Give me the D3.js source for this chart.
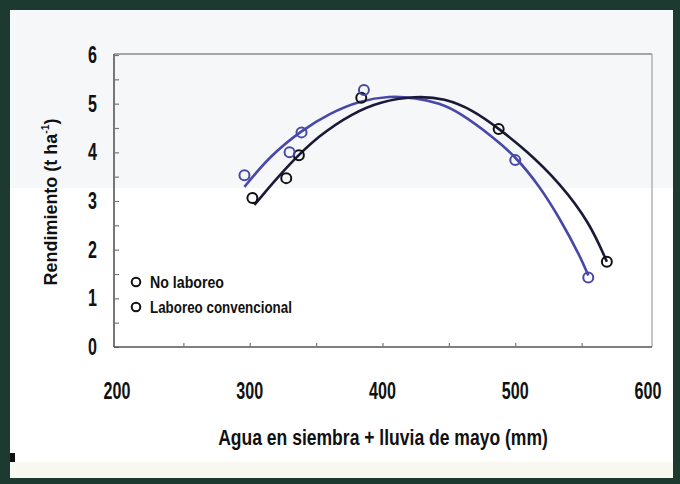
<!DOCTYPE html>
<html>
<head>
<meta charset="utf-8">
<script src="https://cdn.jsdelivr.net/npm/d3@7"></script>
<style>
  html, body { margin: 0; padding: 0; background: #1d3a30; }
  svg { display: block; }
  text { font-family: "Liberation Sans", Arial, sans-serif; fill: #111; font-weight: bold; }
</style>
</head>
<body>
<svg id="chart" width="680" height="484"></svg>
<script>
// ---- data ----
const xTicks = [200, 300, 400, 500, 600];
const yTicks = [0, 1, 2, 3, 4, 5, 6];
const seriesNames = ["No laboreo", "Laboreo convencional"];

// observed points
const noLabX = [296, 330, 339, 386, 500, 555];
const noLabY = [3.53, 4.00, 4.41, 5.28, 3.84, 1.43];
const convX = [302, 327.5, 337, 384, 487.5, 569];
const convY = [3.06, 3.47, 3.94, 5.12, 4.48, 1.75];

// fitted curves
const noLabCurveX = [296, 315, 339, 360, 383, 405, 425, 443, 458, 483, 500, 518.5, 533.6, 549, 555];
const noLabCurveY = [3.29, 3.92, 4.45, 4.80, 5.06, 5.16, 5.12, 5.01, 4.82, 4.32, 3.92, 3.30, 2.64, 1.86, 1.47];
const convCurveX = [303.5, 327.5, 352.5, 377.4, 397.7, 425, 446.8, 468, 487.5, 508.7, 533.6, 556.2, 569];
const convCurveY = [2.92, 3.70, 4.36, 4.80, 5.04, 5.16, 5.11, 4.87, 4.49, 4.03, 3.37, 2.55, 1.75];

const blue = "#4848a6";
const dark = "#1a1a38";

const svg = d3.select("#chart");

// frame & paper
svg.append("rect").attr("x", 0).attr("y", 0).attr("width", 680).attr("height", 484).attr("fill", "#1d3a30");
svg.append("rect").attr("x", 10).attr("y", 10).attr("width", 663).attr("height", 468).attr("fill", "#ffffff");
svg.append("rect").attr("x", 10).attr("y", 10).attr("width", 663).attr("height", 178).attr("fill", "#f6f7f9");
svg.append("rect").attr("x", 10).attr("y", 462).attr("width", 663).attr("height", 16).attr("fill", "#f8f8f0");
svg.append("rect").attr("x", 10).attr("y", 453).attr("width", 5).attr("height", 9).attr("fill", "#111");

const x = d3.scaleLinear().domain([200, 600]).range([117, 648]);
const y = d3.scaleLinear().domain([0, 6]).range([347, 55]);

const pLeft = x(200) - 3, pRight = x(600) + 4, pTop = y(6) - 1, pBottom = y(0);

// plot box
svg.append("line").attr("x1", pLeft).attr("x2", pRight).attr("y1", pTop).attr("y2", pTop)
  .attr("stroke", "#8a8a8a").attr("stroke-width", 1.6);
svg.append("line").attr("x1", pRight).attr("x2", pRight).attr("y1", pTop).attr("y2", pBottom)
  .attr("stroke", "#a0a0a0").attr("stroke-width", 1.2);

// y axis (inward ticks every 0.5)
const yAxis = d3.axisRight(y).tickValues(d3.range(0, 6.01, 0.5)).tickSize(5).tickFormat("");
const gy = svg.append("g").attr("transform", `translate(${pLeft},0)`).call(yAxis);
gy.select(".domain").attr("stroke", "#555").attr("stroke-width", 1.6).attr("d", `M0,${pTop}V${pBottom}`);
gy.selectAll(".tick line").attr("stroke", "#777").attr("stroke-width", 1.2);

// x axis (inward ticks)
const xAxis = d3.axisTop(x).tickValues(d3.range(250, 600, 50)).tickSize(4).tickFormat("");
const gx = svg.append("g").attr("transform", `translate(0,${pBottom})`).call(xAxis);
gx.select(".domain").attr("stroke", "#555").attr("stroke-width", 1.6).attr("d", `M${pLeft},0H${pRight}`);
gx.selectAll(".tick line").attr("stroke", "#777").attr("stroke-width", 1.2);

// condensed-look text: squeeze horizontally around its anchor
const SQ = 0.7;
svg.append("g").selectAll("text").data(xTicks).join("text")
  .attr("transform", d => `translate(${x(d)},399) scale(${SQ},1)`)
  .attr("text-anchor", "middle").attr("font-size", 23)
  .text(d => d);
svg.append("g").selectAll("text").data(yTicks).join("text")
  .attr("transform", d => `translate(97,${y(d) + 8}) scale(${SQ},1)`)
  .attr("text-anchor", "end").attr("font-size", 23)
  .text(d => d);

// fit a text element to a target width (horizontal squeeze)
function fit(sel, tx, ty, target, rot) {
  const w = sel.node().getComputedTextLength();
  const s = target / w;
  sel.attr("transform", `translate(${tx},${ty})${rot ? " rotate(" + rot + ")" : ""} scale(${s},1)`);
}

// axis titles
const xt = svg.append("text").attr("text-anchor", "middle").attr("font-size", 22)
  .text("Agua en siembra + lluvia de mayo (mm)");
fit(xt, 383, 445, 330);

const yt = svg.append("text").attr("text-anchor", "middle").attr("font-size", 19);
yt.append("tspan").text("Rendimiento (t ha");
yt.append("tspan").attr("font-size", 11).attr("dy", -8).text("-1");
yt.append("tspan").attr("dy", 8).text(")");
fit(yt, 57, 202, 167, -90);

// curves
const line = d3.line().x(d => x(d[0])).y(d => y(d[1])).curve(d3.curveBasis);
svg.append("path").datum(noLabCurveX.map((v, i) => [v, noLabCurveY[i]]))
  .attr("d", line).attr("fill", "none").attr("stroke", blue).attr("stroke-width", 2.6);
svg.append("path").datum(convCurveX.map((v, i) => [v, convCurveY[i]]))
  .attr("d", line).attr("fill", "none").attr("stroke", dark).attr("stroke-width", 2.6);

// points
svg.append("g").selectAll("circle").data(convX.map((v, i) => [v, convY[i]])).join("circle")
  .attr("cx", d => x(d[0])).attr("cy", d => y(d[1])).attr("r", 5)
  .attr("fill", "none").attr("stroke", "#111").attr("stroke-width", 2);
svg.append("g").selectAll("circle").data(noLabX.map((v, i) => [v, noLabY[i]])).join("circle")
  .attr("cx", d => x(d[0])).attr("cy", d => y(d[1])).attr("r", 5)
  .attr("fill", "none").attr("stroke", blue).attr("stroke-width", 2);

// legend
const legendW = [74, 142];
const lg = svg.append("g").selectAll("g").data(seriesNames).join("g")
  .attr("transform", (d, i) => `translate(136,${282 + i * 25})`);
lg.append("circle").attr("r", 4.3).attr("fill", "none").attr("stroke", "#111").attr("stroke-width", 2);
lg.append("text").attr("font-size", 16).text(d => d)
  .each(function (d, i) { fit(d3.select(this), 14, 6, legendW[i]); });
</script>
</body>
</html>
